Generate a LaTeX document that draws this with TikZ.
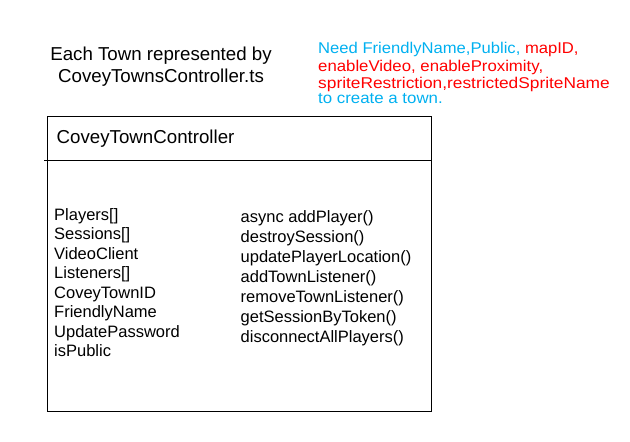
\documentclass[tikz,border=0pt]{standalone}
\usepackage{fontspec}
\setmainfont{Liberation Sans}
\usepackage{xcolor}
\usepackage{tikz}

\definecolor{noteblue}{RGB}{0,176,240}
\definecolor{notered}{RGB}{255,0,0}

\begin{document}
\begin{tikzpicture}[x=1pt,y=-1pt]
	\tikzstyle{every node}+=[inner sep=0pt, font=\fontsize{16.5}{20}\selectfont]
	\tikzstyle{txt}=[anchor=base west]
	\tikzstyle{big}=[font=\fontsize{18.7}{22}\selectfont]
	\tikzstyle{note}=[anchor=base west, font=\fontsize{15.6}{16}\selectfont, transform shape]
	\useasboundingbox (0,0) rectangle (630,442);
	% heading above the class box
	\draw (161,60) node [big, anchor=base] (title1) {Each Town represented by};
	\draw (161,82) node [big, anchor=base] (title2) {CoveyTownsController.ts};
	% note on what is needed
	\draw (318,53.3) node [note, xscale=1.065] (need1) {\color{noteblue}Need FriendlyName,Public, \color{notered}mapID,};
	\draw (318,71.8) node [note, xscale=1.075] (need2) {\color{notered}enableVideo, enableProximity,};
	\draw (318,88.6) node [note, xscale=1.11] (need3) {\color{notered}spriteRestriction,restrictedSpriteName};
	\draw (318,103.6) node [note, xscale=1.08] (need4) {\color{noteblue}to create a town.};
	% class box
	\draw (47,116) node [draw, line width=0.8pt, anchor=north west, minimum width=384pt, minimum height=295pt] (ctc) {};
	\coordinate (divl) at (44,160);
	\coordinate (divr) at (432,160);
	\draw [line width=0.8pt] (divl) -- (divr);
	\draw (56.5,143) node [txt, big] (ctcname) {CoveyTownController};
	% fields
	\draw (54,220) node [txt] (f1) {Players[]};
	\draw (54,239.5) node [txt] (f2) {Sessions[]};
	\draw (54,259) node [txt] (f3) {VideoClient};
	\draw (54,278.5) node [txt] (f4) {Listeners[]};
	\draw (54,298) node [txt] (f5) {CoveyTownID};
	\draw (54,317.5) node [txt] (f6) {FriendlyName};
	\draw (54,337) node [txt] (f7) {UpdatePassword};
	\draw (54,356.5) node [txt] (f8) {isPublic};
	% methods
	\draw (240.5,222.3) node [txt] (m1) {async addPlayer()};
	\draw (240.5,242.4) node [txt] (m2) {destroySession()};
	\draw (240.5,262.5) node [txt] (m3) {updatePlayerLocation()};
	\draw (240.5,282.5) node [txt] (m4) {addTownListener()};
	\draw (240.5,302.6) node [txt] (m5) {removeTownListener()};
	\draw (240.5,322.6) node [txt] (m6) {getSessionByToken()};
	\draw (240.5,342.7) node [txt] (m7) {disconnectAllPlayers()};
\end{tikzpicture}
\end{document}
